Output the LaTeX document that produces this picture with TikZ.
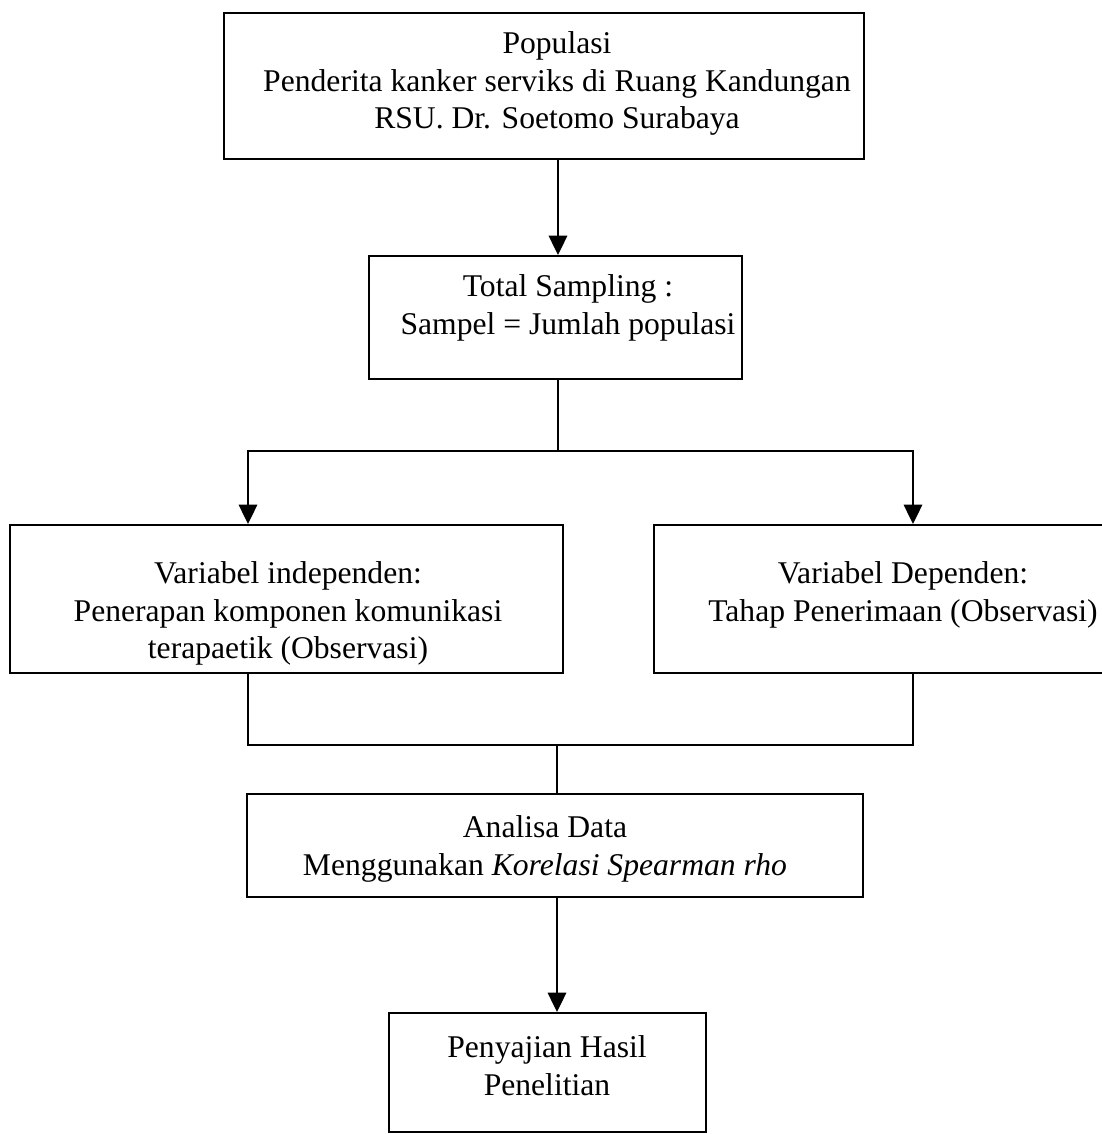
\documentclass[tikz,border=0pt]{standalone}
\usepackage{fontspec}
\setmainfont{Liberation Serif}
\usetikzlibrary{arrows, arrows.meta, positioning, calc}

\begin{document}
\begin{tikzpicture}[x=0.02cm, y=-0.02cm, >={Triangle[length=11pt, width=10.5pt]},
    kotak/.style={draw, line width=1.1pt, inner sep=0pt},
    teks/.style={align=center, font=\fontsize{18pt}{21.5pt}\selectfont, inner sep=0pt},
    garis/.style={line width=1.1pt}]
      \useasboundingbox (0, 0) rectangle (1102, 1134);

      % kotak-kotak
      \node[kotak, minimum width=640*0.02cm, minimum height=146*0.02cm, anchor=north west] (pop) at (223, 12) {};
      \node[kotak, minimum width=373*0.02cm, minimum height=123*0.02cm, anchor=north west] (samp) at (368, 255) {};
      \node[kotak, minimum width=553*0.02cm, minimum height=148*0.02cm, anchor=north west] (indep) at (9, 524) {};
      \node[kotak, minimum width=460*0.02cm, minimum height=148*0.02cm, anchor=north west] (dep) at (653, 524) {};
      \node[kotak, minimum width=616*0.02cm, minimum height=103*0.02cm, anchor=north west] (ana) at (246, 793) {};
      \node[kotak, minimum width=317*0.02cm, minimum height=119*0.02cm, anchor=north west] (pen) at (388, 1012) {};

      % teks
      \node[teks, anchor=north] (tpop) at (557, 31) {Populasi\\Penderita kanker serviks di Ruang Kandungan\\RSU. Dr. Soetomo Surabaya};
      \node[teks, anchor=north] (tsamp) at (568, 274) {Total Sampling :\\Sampel = Jumlah populasi};
      \node[teks, anchor=north] (tindep) at (288, 561) {Variabel independen:\\Penerapan komponen komunikasi\\terapaetik (Observasi)};
      \node[teks, anchor=north] (tdep) at (903, 561) {Variabel Dependen:\\Tahap Penerimaan (Observasi)};
      \node[teks, anchor=north] (tana) at (545, 815) {Analisa Data\\Menggunakan \textit{Korelasi Spearman rho}};
      \node[teks, anchor=north] (tpen) at (547, 1035) {Penyajian Hasil\\Penelitian};

      % titik bantu
      \coordinate (c1) at (558, 451);
      \coordinate (c2) at (248, 451);
      \coordinate (c3) at (913, 451);
      \coordinate (c4) at (248, 745);
      \coordinate (c5) at (913, 745);
      \coordinate (c6) at (557, 745);

      % panah
      \draw[garis, ->] (pop.south -| c1) -- (samp.north -| c1);
      \draw[garis] (samp.south -| c1) -- (c1);
      \draw[garis, ->] (c1) -- (c2) -- (indep.north -| c2);
      \draw[garis, ->] (c1) -- (c3) -- (dep.north -| c3);
      \draw[garis] (indep.south -| c4) -- (c4) -- (c5) -- (dep.south -| c5);
      \draw[garis] (c6) -- (ana.north -| c6);
      \draw[garis, ->] (ana.south -| c6) -- (pen.north -| c6);

    \end{tikzpicture}
\end{document}
